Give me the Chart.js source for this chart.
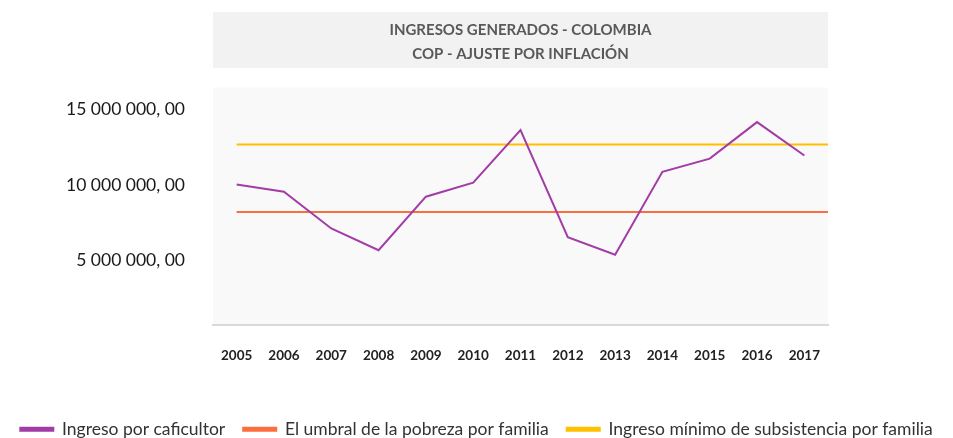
<!DOCTYPE html>
<html>
<head>
<meta charset="utf-8">
<script src="https://cdn.jsdelivr.net/npm/chart.js@4"></script>
<style>
    body { margin: 0; background: #fff; }
    #wrap { width: 953px; height: 438px; }
</style>
</head>
<body>
<div id="wrap"><canvas id="lineChart"></canvas></div>
<script>
// data
var years = [2005, 2006, 2007, 2008, 2009, 2010, 2011, 2012, 2013, 2014, 2015, 2016, 2017];
var ingreso = [10030000, 9550000, 7120000, 5680000, 9220000, 10150000, 13630000, 6540000, 5380000, 10870000, 11740000, 14160000, 11950000];
var umbral = 8200000;
var minimo = 12680000;
var yTicks = [5000000, 10000000, 15000000];
var titleLines = ["INGRESOS GENERADOS - COLOMBIA", "COP - AJUSTE POR INFLACIÓN"];
var labels = ["Ingreso por caficultor", "El umbral de la pobreza por familia", "Ingreso mínimo de subsistencia por familia"];

var xMin = years[0] - 0.5;
var xMax = years[years.length - 1] + 0.5;

function formatCop(v) {
    var s = Math.round(v).toString().replace(/\B(?=(\d{3})+(?!\d))/g, " ");
    return s + ", 00";
}

function flatLine(value) {
    return [{ x: years[0], y: value }, { x: xMax, y: value }];
}

// grey backgrounds behind the title and the plot
var backgrounds = {
    id: "backgrounds",
    afterLayout: function (chart) {
        // push the legend a bit lower, closer to the bottom edge
        var lg = chart.legend;
        lg.top += 10;
        lg.bottom += 10;
    },
    beforeDraw: function (chart) {
        var ctx = chart.ctx;
        var area = chart.chartArea;
        ctx.save();
        ctx.fillStyle = "#f2f2f2";
        ctx.fillRect(area.left, 12, area.right - area.left, 56);
        ctx.fillStyle = "#f9f9f9";
        ctx.fillRect(area.left, area.top, area.right - area.left, area.bottom - area.top);
        ctx.restore();
    }
};

var ctx = document.getElementById("lineChart").getContext("2d");
var myChart = new Chart(ctx, {
    type: "line",
    data: {
        datasets: [{
            label: labels[0],
            data: years.map(function (y, i) { return { x: y, y: ingreso[i] }; }),
            borderColor: "#a23ca6",
            backgroundColor: "#a23ca6",
            borderWidth: 2,
            pointRadius: 0,
            tension: 0
        }, {
            label: labels[1],
            data: flatLine(umbral),
            borderColor: "#fb6f3f",
            backgroundColor: "#fb6f3f",
            borderWidth: 2,
            pointRadius: 0
        }, {
            label: labels[2],
            data: flatLine(minimo),
            borderColor: "#ffc000",
            backgroundColor: "#ffc000",
            borderWidth: 2,
            pointRadius: 0
        }]
    },
    options: {
        responsive: true,
        maintainAspectRatio: false,
        animation: false,
        layout: { padding: { top: 12, left: 0, right: 0, bottom: 0 } },
        plugins: {
            title: {
                display: true,
                fullSize: false,
                text: titleLines,
                color: "#595959",
                font: { family: "Lato", size: 15, weight: "bold", lineHeight: 1.55 },
                padding: { top: 7, bottom: 22 }
            },
            legend: {
                position: "bottom",
                labels: {
                    boxWidth: 33,
                    boxHeight: 3,
                    padding: 18,
                    color: "#333333",
                    font: { family: "Lato", size: 17.5 }
                }
            },
            tooltip: { enabled: false }
        },
        scales: {
            x: {
                type: "linear",
                min: xMin,
                max: xMax,
                afterBuildTicks: function (axis) {
                    axis.ticks = years.map(function (v) { return { value: v }; });
                },
                grid: { display: false },
                border: { color: "#d9d9d9", width: 2 },
                ticks: {
                    padding: 15,
                    color: "#222222",
                    maxRotation: 0,
                    autoSkip: false,
                    font: { family: "Lato", size: 13.5, weight: "bold" },
                    callback: function (v) { return String(v); }
                },
                afterFit: function (s) { s.height = 68; }
            },
            y: {
                min: 760000,
                max: 16450000,
                afterBuildTicks: function (axis) {
                    axis.ticks = yTicks.map(function (v) { return { value: v }; });
                },
                grid: { display: false, drawTicks: false },
                border: { display: false },
                ticks: {
                    padding: 28,
                    color: "#1a1a1a",
                    font: { family: "Lato", size: 17.5 },
                    callback: function (v) { return formatCop(v); }
                },
                afterFit: function (s) { s.width = 213; }
            },
            y2: {
                position: "right",
                grid: { display: false },
                border: { display: false },
                ticks: { display: false },
                afterFit: function (s) { s.width = 125; }
            }
        }
    },
    plugins: [backgrounds]
});
</script>
</body>
</html>
